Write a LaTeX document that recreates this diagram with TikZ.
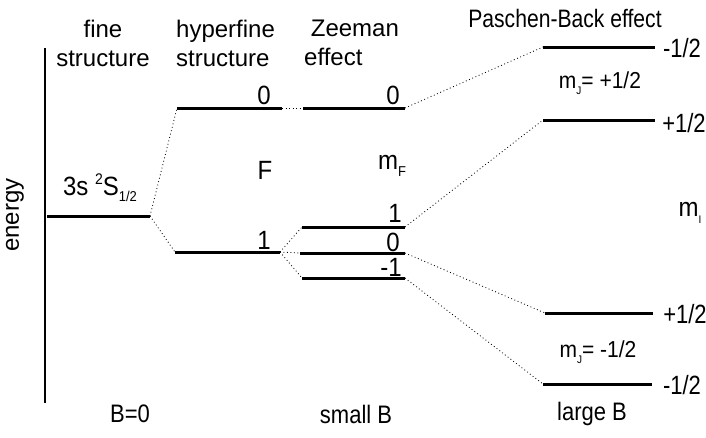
\documentclass[tikz,border=0pt]{standalone}
\usepackage{fontspec}
\setmainfont{Liberation Sans}
\newcommand\lsub[2][13]{\raisebox{-0.45ex}{\fontsize{#1}{#1}\selectfont #2}}
\newcommand\lsup[2][14]{\raisebox{0.75ex}{\fontsize{#1}{#1}\selectfont #2}}
\newcommand\vst[2][1.15]{\scalebox{1}[#1]{#2}}
\begin{document}
\begin{tikzpicture}[x=1pt,y=-1pt,
  lab/.style={font=\fontsize{24}{26}\selectfont, inner sep=0pt},
  numlab/.style={font=\fontsize{22}{24}\selectfont, inner sep=0pt},
  headlab/.style={font=\fontsize{24}{29}\selectfont, inner sep=0pt},
  smalllab/.style={font=\fontsize{21}{23}\selectfont, inner sep=0pt},
  level/.style={line width=3pt},
  conn/.style={line width=0.8pt, dash pattern=on 0.9pt off 2.6pt},
  axisline/.style={line width=1.3pt}]
\useasboundingbox (0,0) rectangle (706,437);
% axis
\coordinate (axT) at (45,48);
\coordinate (axB) at (45,403);
\draw[axisline] (axT) -- (axB);
\node[lab, rotate=90] (energy) at (15,215) {energy};
% headers
\node[headlab, align=center] (hfine) at (103,43) {fine\\structure};
\node[headlab, align=left, anchor=west] (hhyper) at (176,43) {hyperfine\\structure};
\node[headlab, align=left, anchor=west] (hzee) at (304,43) {\ Zeeman\\effect};
\node[lab] (hpb) at (565,18) {\scalebox{0.88}[1.05]{Paschen-Back effect}};
% level coordinates
\coordinate (fsL) at (47,216); \coordinate (fsR) at (150,216);
\coordinate (h0L) at (177,108); \coordinate (h0R) at (282,108);
\coordinate (h1L) at (175,252); \coordinate (h1R) at (280,252);
\coordinate (z0L) at (303,108); \coordinate (z0R) at (405,108);
\coordinate (zp1L) at (302,227); \coordinate (zp1R) at (405,227);
\coordinate (zm0L) at (300,253); \coordinate (zm0R) at (405,253);
\coordinate (zn1L) at (302,278); \coordinate (zn1R) at (405,278);
\coordinate (p1L) at (543,47); \coordinate (p1R) at (655,47);
\coordinate (p2L) at (543,120); \coordinate (p2R) at (655,120);
\coordinate (p3L) at (545,313); \coordinate (p3R) at (653,313);
\coordinate (p4L) at (543,384); \coordinate (p4R) at (652,384);
% levels
\foreach \a in {fs,h0,h1,z0,zp1,zm0,zn1,p1,p2,p3,p4}
  \draw[level] (\a L) -- (\a R);
% connectors
\draw[conn] (fsR) -- (h0L);
\draw[conn] (fsR) -- (h1L);
\draw[conn] (h0R) -- (z0L);
\draw[conn] (h1R) -- (zp1L);
\draw[conn] (h1R) -- (zm0L);
\draw[conn] (h1R) -- (zn1L);
\draw[conn] (z0R) -- (p1L);
\draw[conn] (zp1R) -- (p2L);
\draw[conn] (zm0R) -- (p3L);
\draw[conn] (zn1R) -- (p4L);
% level labels
\node[lab] (lfs) at (100,188) {\vst[1.1]{3s \lsup{2}S\lsub[13]{1/2}}};
\node[lab] (lh0) at (264,95) {\vst[1.1]{0}};
\node[lab] (lh1) at (264,240) {\vst[1.1]{1}};
\node[lab] (lz0) at (393,95) {\vst[1.1]{0}};
\node[lab] (lzp1) at (395,213) {\vst[1.1]{1}};
\node[lab] (lzm0) at (393,242) {\vst[1.1]{0}};
\node[lab] (lzn1) at (391,267) {\vst[1.1]{-1}};
\node[lab] (lF) at (265,170) {\vst[1.1]{F}};
\node[lab] (lmF) at (392,166) {\vst[1.1]{m\lsub{F}}};
\node[numlab] (lp1) at (682,48) {\vst[1.2]{-1/2}};
\node[numlab] (lp2) at (684,123) {\vst[1.2]{+1/2}};
\node[numlab] (lp3) at (685,314) {\vst[1.2]{+1/2}};
\node[numlab] (lp4) at (682,385) {\vst[1.2]{-1/2}};
\node[smalllab] (lmJa) at (600,83) {\vst[1.1]{m\lsub[10]{J}= +1/2}};
\node[smalllab] (lmJb) at (598,352) {\vst[1.1]{m\lsub[10]{J}= -1/2}};
\node[lab] (lmI) at (690,213) {\vst[1.1]{m\lsub[10]{I}}};
% bottom
\node[numlab] (b0) at (130,414) {\vst{B=0}};
\node[numlab] (bs) at (356,414) {\vst{small B}};
\node[numlab] (bl) at (592,414) {\vst{large B}};
\end{tikzpicture}
\end{document}
